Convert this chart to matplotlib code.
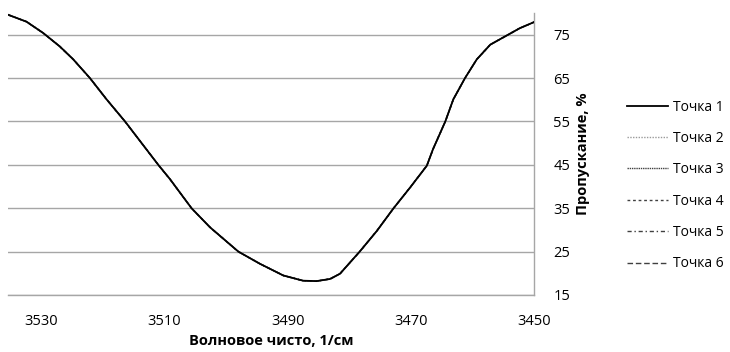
import matplotlib
matplotlib.use("Agg")
from matplotlib import pyplot as plt

# ---------------- DATA ----------------
wavenumber = [3535.4, 3532.4, 3529.7, 3527.0, 3524.8, 3522.1, 3519.4, 3516.4,
              3513.7, 3511.0, 3509.1, 3505.6, 3502.6, 3498.0, 3494.5, 3490.7,
              3487.5, 3485.3, 3483.1, 3481.5, 3478.3, 3475.5, 3472.8, 3470.1,
              3467.4, 3466.4, 3464.4, 3463.1, 3461.2, 3459.3, 3457.1,
              3454.2, 3452.3, 3450.0]
# all six points lie on top of each other in the reference
t1 = [79.6, 78.0, 75.4, 72.3, 69.3, 65.0, 60.1, 55.0,
      50.0, 45.0, 41.7, 35.0, 30.6, 25.0, 22.2, 19.5,
      18.3, 18.2, 18.7, 19.9, 25.0, 29.8, 35.0, 39.8,
      44.8, 48.6, 55.0, 60.1, 65.0, 69.3, 72.7,
      75.0, 76.5, 77.9]
t2 = list(t1)
t3 = list(t1)
t4 = list(t1)
t5 = list(t1)
t6 = list(t1)
series = [t1, t2, t3, t4, t5, t6]
labels = ["Точка 1", "Точка 2", "Точка 3", "Точка 4", "Точка 5", "Точка 6"]
yticks = [15, 25, 35, 45, 55, 65, 75]
xticks = [3530, 3510, 3490, 3470, 3450]

# ---------------- STYLE ----------------
plt.rcParams["font.family"] = ["Open Sans", "DejaVu Sans"]
styles = [
    dict(color="black", lw=1.3, ls="-"),
    dict(color="#9a9a9a", lw=1.0, ls=(0, (1, 1))),
    dict(color="#404040", lw=1.0, ls=(0, (1, 0.6))),
    dict(color="#404040", lw=1.0, ls=(0, (2, 2))),
    dict(color="#404040", lw=1.0, ls=(0, (3, 2, 1, 2))),
    dict(color="#404040", lw=1.0, ls=(0, (4, 2))),
]

fig = plt.figure(figsize=(7.3, 3.52), dpi=100)
ax = fig.add_axes([8 / 730, 57 / 352, 526 / 730, 282 / 352])

lines = []
for i in range(5, -1, -1):
    ln, = ax.plot(wavenumber, series[i], zorder=3 + (6 - i), **styles[i])
    lines.insert(0, ln)

ax.set_xlim(3535.4, 3450)
ax.set_ylim(15, 80)
ax.set_xticks(xticks)
ax.set_yticks(yticks)
ax.yaxis.tick_right()
ax.yaxis.set_label_position("right")
ax.tick_params(axis="both", length=0, labelsize=10.5)
ax.tick_params(axis="x", pad=14)
ax.tick_params(axis="y", pad=14)
ax.grid(axis="y", color="#a6a6a6", lw=1)
for s in ["top", "left"]:
    ax.spines[s].set_visible(False)
for s in ["right", "bottom"]:
    ax.spines[s].set_color("#a6a6a6")
    ax.spines[s].set_linewidth(1)

ax.set_xlabel("Волновое чисто, 1/см", fontsize=10.5, fontweight="bold", labelpad=3)
ax.set_ylabel("Пропускание, %", fontsize=10.5, fontweight="bold", labelpad=4)

fig.legend(lines, labels, loc="upper left", bbox_to_anchor=(614 / 730, 1 - 87 / 352),
           frameon=False, fontsize=10, handlelength=3.0, handletextpad=0.35,
           labelspacing=1.18)

fig.savefig("out.png", dpi=100)
